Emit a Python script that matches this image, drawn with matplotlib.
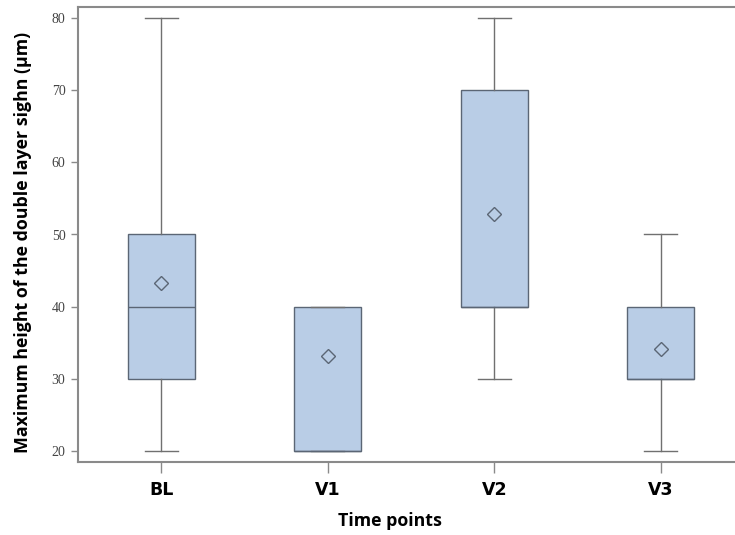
import matplotlib.pyplot as plt

# summary stats
time_points = ['BL', 'V1', 'V2', 'V3']
whisker_low = [20, 20, 30, 20]
q1 = [30, 20, 40, 30]
medians = [40, 20, 40, 30]
q3 = [50, 40, 70, 40]
whisker_high = [80, 40, 80, 50]
means = [43.3, 33.2, 52.8, 34.2]
y_ticks = [20, 30, 40, 50, 60, 70, 80]

stats = []
for i, name in enumerate(time_points):
    stats.append({
        'label': name,
        'whislo': whisker_low[i],
        'q1': q1[i],
        'med': medians[i],
        'q3': q3[i],
        'whishi': whisker_high[i],
        'mean': means[i],
        'fliers': [],
    })

fig = plt.figure(figsize=(7.35, 5.35), dpi=100)
ax = fig.add_axes([78 / 735, 1 - 462 / 535, 666 / 735, 455 / 535])

edge = '#5b6675'
grey = '#707070'
ax.bxp(
    stats,
    positions=range(len(time_points)),
    widths=0.4,
    patch_artist=True,
    showmeans=True,
    boxprops=dict(facecolor='#b9cde6', edgecolor=edge, linewidth=1.0),
    medianprops=dict(color=edge, linewidth=1.0),
    whiskerprops=dict(color=grey, linewidth=1.0),
    capprops=dict(color=grey, linewidth=1.0),
    capwidths=0.2,
    meanprops=dict(marker='D', markerfacecolor='none', markeredgecolor=edge,
                   markersize=7, markeredgewidth=1.0),
)

ax.set_xlim(-0.5, 3.5)
ax.set_ylim(18.48, 81.52)
ax.set_yticks(y_ticks)
ax.set_xticks(range(len(time_points)))
ax.set_xticklabels(time_points, fontfamily='Liberation Sans Narrow',
                   fontweight='bold', fontsize=12.5)
for lab in ax.get_yticklabels():
    lab.set_fontfamily('Liberation Serif')
    lab.set_fontsize(10)
    lab.set_color('#444444')

for sp in ax.spines.values():
    sp.set_color('#8a8a8a')
    sp.set_linewidth(1.5)
ax.tick_params(axis='both', color='#8a8a8a', width=1.0)
ax.tick_params(axis='y', length=5, pad=4)
ax.tick_params(axis='x', length=8, pad=6)

ax.set_ylabel('Maximum height of the double layer sighn (µm)',
              fontfamily='Open Sans', fontweight='bold', fontsize=12.8)
ax.yaxis.set_label_coords(-0.069, 0.4835)
ax.set_xlabel('Time points', fontfamily='Open Sans', fontweight='bold',
              fontsize=12.8)
ax.xaxis.set_label_coords(0.468, -0.11)

fig.savefig('out.png', dpi=100)
